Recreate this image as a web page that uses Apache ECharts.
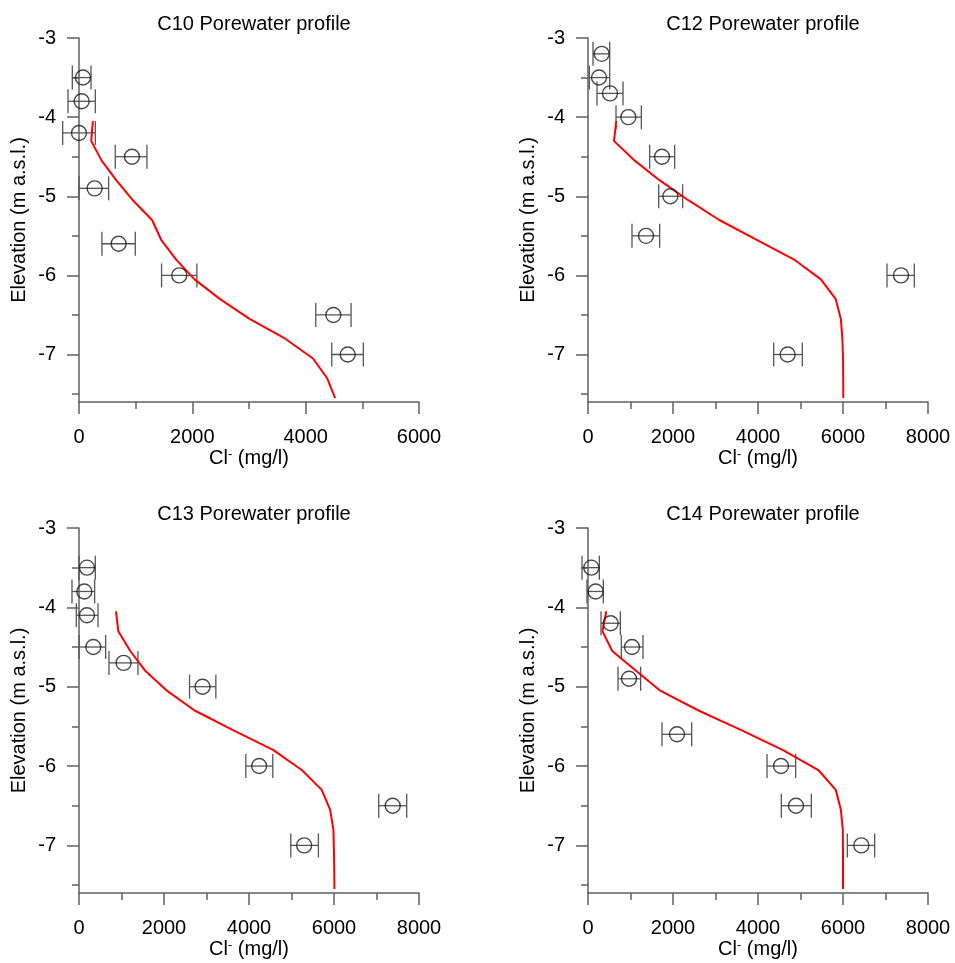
<!DOCTYPE html>
<html>
<head>
<meta charset="utf-8">
<script src="https://cdn.jsdelivr.net/npm/echarts@6/dist/echarts.min.js"></script>
<style>
  html, body { margin: 0; padding: 0; background: #fff; }
  #main { width: 955px; height: 963px; }
</style>
</head>
<body>
<div id="main"></div>
<script>
// ---- data ----
var panelTitles = ['C10 Porewater profile', 'C12 Porewater profile', 'C13 Porewater profile', 'C14 Porewater profile'];
var xMaxes = [6000, 8000, 8000, 8000];
var yMajorTicks = [-3, -4, -5, -6, -7];
var yMinorTicks = [-3.5, -4.5, -5.5, -6.5, -7.5];

// measured samples: elevation, Cl-, error bar low / high
var c10Depth = [-3.5, -3.8, -4.2, -4.5, -4.9, -5.6, -6.0, -6.5, -7.0];
var c10Cl    = [70, 47, 0, 934, 276, 699, 1769, 4489, 4742];
var c10Lo    = [-118, -194, -288, 640, 0, 405, 1457, 4178, 4460];
var c10Hi    = [212, 288, 288, 1199, 523, 993, 2080, 4801, 5018];

var c12Depth = [-3.2, -3.5, -3.7, -4.0, -4.5, -5.0, -5.5, -6.0, -7.0];
var c12Cl    = [322, 259, 518, 949, 1741, 1937, 1365, 7365, 4698];
var c12Lo    = [118, 31, 212, 659, 1451, 1663, 1035, 7035, 4369];
var c12Hi    = [510, 510, 824, 1255, 2039, 2227, 1686, 7678, 5043];

var c13Depth = [-3.5, -3.8, -4.1, -4.5, -4.7, -5.0, -6.0, -6.5, -7.0];
var c13Cl    = [188, 125, 188, 337, 1050, 2907, 4239, 7381, 5297];
var c13Lo    = [0, -165, -63, 0, 705, 2601, 3925, 7052, 4983];
var c13Hi    = [384, 368, 447, 627, 1387, 3220, 4560, 7710, 5633];

var c14Depth = [-3.5, -3.8, -4.2, -4.5, -4.9, -5.6, -6.0, -6.5, -7.0];
var c14Cl    = [78, 180, 533, 1035, 965, 2094, 4541, 4894, 6431];
var c14Lo    = [-141, -24, 306, 784, 706, 1741, 4212, 4549, 6102];
var c14Hi    = [267, 361, 761, 1294, 1239, 2439, 4886, 5255, 6745];

// modelled profiles (red lines)
var modelDepth = [-4.05, -4.3, -4.55, -4.8, -5.05, -5.3, -5.55, -5.8, -6.05, -6.3, -6.55, -6.8, -7.05, -7.3, -7.55];
var c10Model = [245, 215, 400, 660, 950, 1290, 1450, 1715, 2040, 2490, 3010, 3640, 4130, 4380, 4520];
var c12Model = [666, 611, 1100, 1690, 2360, 3090, 3970, 4850, 5480, 5830, 5950, 5985, 6000, 6005, 6007];
var c13Model = [870, 925, 1207, 1560, 2068, 2720, 3636, 4576, 5242, 5712, 5908, 5986, 5998, 6005, 6010];
var c14Model = [431, 340, 570, 1130, 1700, 2600, 3620, 4590, 5420, 5830, 5950, 5995, 6000, 6000, 6000];

var samples = [
  [c10Depth, c10Cl, c10Lo, c10Hi],
  [c12Depth, c12Cl, c12Lo, c12Hi],
  [c13Depth, c13Cl, c13Lo, c13Hi],
  [c14Depth, c14Cl, c14Lo, c14Hi]
];
var models = [c10Model, c12Model, c13Model, c14Model];

var font = 'Liberation Sans, Arial, sans-serif';
var axisColor = '#606060';
var grids = [
  {left: 79, top: 38, width: 340, height: 364},
  {left: 588, top: 38, width: 340, height: 364},
  {left: 79, top: 528, width: 340, height: 365},
  {left: 588, top: 528, width: 340, height: 365}
];
var titleTops = [9, 499];

function errorBars(params, api) {
  var lo = api.coord([api.value(0), api.value(2)]);
  var hi = api.coord([api.value(1), api.value(2)]);
  var h = 12;
  var st = {stroke: '#555', lineWidth: 1.3};
  return {
    type: 'group',
    children: [
      {type: 'line', shape: {x1: lo[0], y1: lo[1], x2: hi[0], y2: hi[1]}, style: st},
      {type: 'line', shape: {x1: lo[0], y1: lo[1] - h, x2: lo[0], y2: lo[1] + h}, style: st},
      {type: 'line', shape: {x1: hi[0], y1: hi[1] - h, x2: hi[0], y2: hi[1] + h}, style: st}
    ]
  };
}

var title = [], xAxis = [], yAxis = [], series = [];
for (var i = 0; i < 4; i++) {
  var g = grids[i];
  title.push({
    text: panelTitles[i],
    left: g.left + g.width / 2,
    top: titleTops[i < 2 ? 0 : 1],
    textAlign: 'center',
    textStyle: {fontFamily: font, fontSize: 20, fontWeight: 'normal', color: '#000'}
  });
  xAxis.push({
    gridIndex: i,
    type: 'value',
    min: 0,
    max: xMaxes[i],
    interval: 2000,
    name: '{n|Cl}{s|-}{n| (mg/l)}',
    nameLocation: 'middle',
    nameGap: 46,
    nameTextStyle: {
      rich: {
        n: {fontFamily: font, fontSize: 20, color: '#000'},
        s: {fontFamily: font, fontSize: 13, color: '#000', verticalAlign: 'top'}
      }
    },
    axisLine: {show: true, onZero: false, lineStyle: {color: axisColor, width: 1.5}},
    axisTick: {show: true, length: 12, lineStyle: {color: axisColor, width: 1.5}},
    minorTick: {show: true, splitNumber: 2, length: 7, lineStyle: {color: axisColor, width: 1.5}},
    axisLabel: {fontFamily: font, fontSize: 20, color: '#000', margin: 25,
      formatter: function (v) { return String(v); }},
    splitLine: {show: false}
  });
  yAxis.push({
    gridIndex: i,
    type: 'value',
    position: 'left',
    min: -7.6,
    max: -3,
    name: 'Elevation (m a.s.l.)',
    nameLocation: 'middle',
    nameGap: 50,
    nameTextStyle: {fontFamily: font, fontSize: 20, color: '#000'},
    axisLine: {show: true, onZero: false, lineStyle: {color: axisColor, width: 1.5}},
    axisTick: {show: true, length: 12, customValues: yMajorTicks, lineStyle: {color: axisColor, width: 1.5}},
    axisLabel: {fontFamily: font, fontSize: 20, color: '#000', margin: 23, customValues: yMajorTicks,
      formatter: function (v) { return String(v); }},
    splitLine: {show: false}
  });
  yAxis.push({
    gridIndex: i,
    type: 'value',
    position: 'left',
    offset: 0,
    min: -7.6,
    max: -3,
    axisLine: {show: false, onZero: false},
    axisTick: {show: true, length: 7, customValues: yMinorTicks, lineStyle: {color: axisColor, width: 1.5}},
    axisLabel: {show: false},
    splitLine: {show: false}
  });

  var s = samples[i];
  var barData = [], ptData = [], lineData = [];
  for (var k = 0; k < s[0].length; k++) {
    barData.push([s[2][k], s[3][k], s[0][k]]);
    ptData.push([s[1][k], s[0][k]]);
  }
  for (var m = 0; m < modelDepth.length; m++) {
    lineData.push([models[i][m], modelDepth[m]]);
  }
  series.push({
    type: 'custom',
    xAxisIndex: i,
    yAxisIndex: 2 * i,
    renderItem: errorBars,
    encode: {x: [0, 1], y: 2},
    data: barData,
    z: 2
  });
  series.push({
    type: 'line',
    xAxisIndex: i,
    yAxisIndex: 2 * i,
    data: lineData,
    showSymbol: false,
    lineStyle: {color: '#ff0000', width: 2},
    z: 3
  });
  series.push({
    type: 'scatter',
    xAxisIndex: i,
    yAxisIndex: 2 * i,
    data: ptData,
    symbol: 'circle',
    symbolSize: 15,
    itemStyle: {color: 'rgba(0,0,0,0)', borderColor: '#1a1a1a', borderWidth: 1.4},
    z: 4
  });
}

var myChart = echarts.init(document.getElementById('main'));
myChart.setOption({
  animation: false,
  backgroundColor: '#fff',
  title: title,
  grid: grids,
  xAxis: xAxis,
  yAxis: yAxis,
  series: series
});
</script>
</body>
</html>
